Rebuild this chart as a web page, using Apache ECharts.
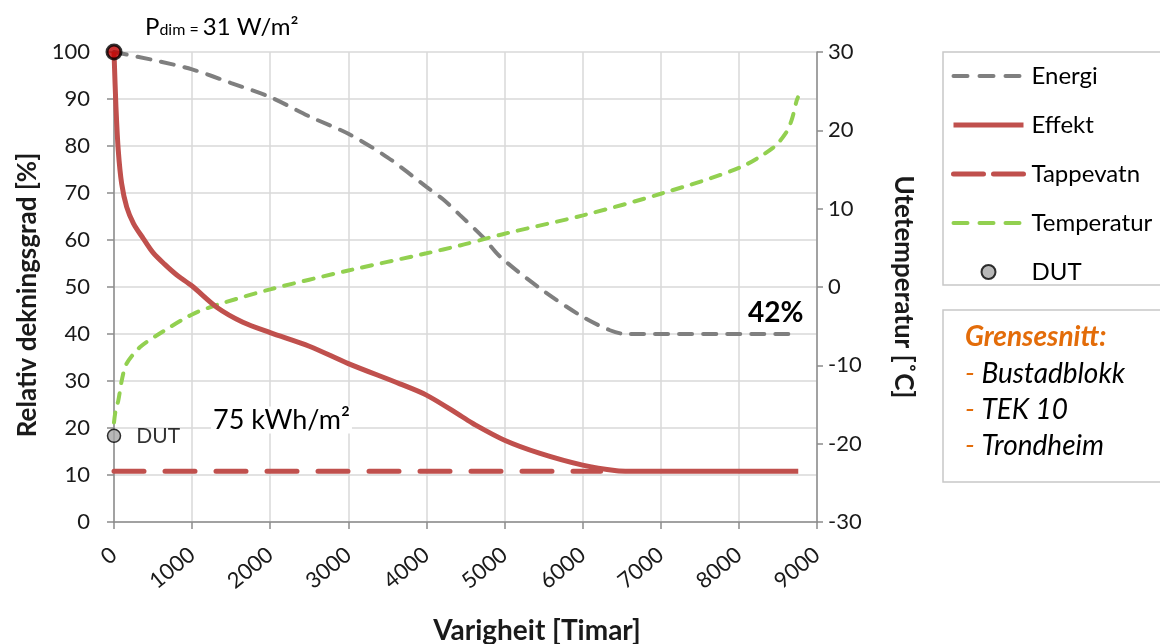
<!DOCTYPE html>
<html><head><meta charset="utf-8">
<script src="https://cdn.jsdelivr.net/npm/echarts@6/dist/echarts.min.js"></script>
<style>html,body{margin:0;padding:0;background:#fff}#c{width:1160px;height:644px}</style>
</head><body><div id="c"></div>
<script>
// ---- data ----
const xTicks = [0,1000,2000,3000,4000,5000,6000,7000,8000,9000];
const energiHours = [0,500,1000,1500,2000,2500,3000,3500,4000,4216,4430,4730,4940,5455,6005,6350,6550,8760];
const energiValues = [100,98.3,96.3,93.4,90.4,86.3,82.6,77.6,71.3,68.6,65.3,60.5,56.5,49.7,43.6,40.8,40,40];
const effektHours = [0,25,55,98,163,250,375,500,650,800,1000,1315,1650,2000,2500,3000,3660,4000,4430,4600,5000,5455,6000,6435,6600,8760];
const effektValues = [100,88.3,79,72,67,63.5,60.3,57.3,54.8,52.6,50.2,45.7,42.5,40.3,37.4,33.7,29.4,27,22.7,20.9,17.4,14.6,12.1,10.9,10.8,10.8];
const tappevatnHours = [0,6230];
const tappevatnValues = [10.8,10.8];
const tempHours = [0,20,55,100,160,330,545,1000,1315,2000,3000,4000,4430,4770,5000,6005,7000,8000,8440,8610,8675,8740,8755];
const tempValues = [-17.3,-15.8,-14.5,-11.9,-9.8,-7.7,-6.2,-3.5,-2.3,-0.3,2.1,4.3,5.3,6.2,6.8,9.15,11.9,15.2,17.8,19.8,21.3,23.8,24.2];
const dutPoint = [0,-19];
const dimPoint = [0,100];

const zip = (a,b)=>a.map((v,i)=>[v,b[i]]);
const FONT = 'Lato, "Open Sans", sans-serif';
const chart = echarts.init(document.getElementById('c'), null, {renderer:'canvas'});
const gray = '#7f7f7f', red = '#c0504d', green = '#92d050';
const hideSym = {opacity:0};

chart.setOption({
  animation:false,
  textStyle:{fontFamily:FONT},
  grid:{left:114, top:52, width:703, height:470, containLabel:false, outerBoundsMode:'none'},
  legend:{
    orient:'vertical', left:946, top:57, itemWidth:70, itemHeight:14, itemGap:21,
    textStyle:{fontSize:24, color:'#000', fontFamily:FONT, lineHeight:28, padding:[0,0,0,3]},
    data:[
      {name:'Energi', itemStyle:hideSym, lineStyle:{width:4, type:[14,12], cap:'round', color:gray}},
      {name:'Effekt', itemStyle:hideSym, lineStyle:{width:5, color:red}},
      {name:'Tappevatn', itemStyle:hideSym, lineStyle:{width:5, type:[30,10], cap:'round', color:red}},
      {name:'Temperatur', itemStyle:hideSym, lineStyle:{width:4, type:[14,12], cap:'round', color:green}},
      {name:'DUT'}
    ]
  },
  xAxis:{
    type:'value', min:0, max:9000, interval:1000,
    axisLine:{show:true, lineStyle:{color:'#8c8c8c', width:1.5}},
    axisTick:{show:true, length:7, lineStyle:{color:'#8c8c8c', width:1.5}},
    splitLine:{show:true, lineStyle:{color:'#d9d9d9', width:1.5}},
    axisLabel:{rotate:39, fontSize:22, color:'#1a1a1a', margin:30, fontFamily:FONT,
      formatter:(v)=>String(v)},
    name:'Varigheit [Timar]', nameLocation:'middle', nameGap:95,
    nameTextStyle:{fontSize:28, fontWeight:'bold', color:'#1a1a1a', padding:[0,0,0,143], fontFamily:FONT}
  },
  yAxis:[{
    type:'value', min:0, max:100, interval:10, position:'left',
    axisLine:{show:true, lineStyle:{color:'#8c8c8c', width:1.5}},
    axisTick:{show:true, length:7, lineStyle:{color:'#8c8c8c', width:1.5}},
    splitLine:{show:true, lineStyle:{color:'#d9d9d9', width:1.5}},
    axisLabel:{fontSize:22, color:'#1a1a1a', margin:24, fontFamily:FONT},
    name:'Relativ dekningsgrad [%]', nameLocation:'middle', nameGap:73, nameRotate:90,
    nameTextStyle:{fontSize:26, fontWeight:'bold', color:'#1a1a1a', fontFamily:FONT, padding:[0,16,0,0]}
  },{
    type:'value', min:-30, max:30, interval:10, position:'right',
    axisLine:{show:true, lineStyle:{color:'#8c8c8c', width:1.5}},
    axisTick:{show:true, length:6, lineStyle:{color:'#8c8c8c', width:1.5}},
    splitLine:{show:false},
    axisLabel:{fontSize:22, color:'#1a1a1a', margin:11, fontFamily:FONT},
    name:'Utetemperatur [˚C]', nameLocation:'middle', nameGap:73, nameRotate:-90,
    nameTextStyle:{fontSize:26, fontWeight:'bold', color:'#1a1a1a', fontFamily:FONT}
  }],
  series:[
    {name:'Energi', type:'line', yAxisIndex:0, data:zip(energiHours,energiValues), symbol:'none', smooth:0.3,
      lineStyle:{color:gray, width:4, type:[13,11], cap:'round'}, itemStyle:{color:gray}, z:3},
    {name:'Tappevatn', type:'line', yAxisIndex:0, data:zip(tappevatnHours,tappevatnValues), symbol:'none',
      lineStyle:{color:red, width:5, type:[30,21], cap:'round'}, itemStyle:{color:red}, z:3},
    {name:'Effekt', type:'line', yAxisIndex:0, data:zip(effektHours,effektValues), symbol:'none', smooth:0.3,
      lineStyle:{color:red, width:5}, itemStyle:{color:red}, z:4},
    {name:'Temperatur', type:'line', yAxisIndex:1, data:zip(tempHours,tempValues), symbol:'none', smooth:0.3,
      lineStyle:{color:green, width:4, type:[10,10], cap:'round'}, itemStyle:{color:green}, z:3},
    {name:'DUT', type:'scatter', yAxisIndex:1, data:[dutPoint], symbol:'circle', symbolSize:13,
      itemStyle:{color:'#a6a6a6', borderColor:'#000', borderWidth:1.5}, z:5,
      label:{show:true, position:'right', distance:15, formatter:'DUT', fontSize:21, color:'#000', fontFamily:FONT}},
    {name:'Pdim', type:'scatter', yAxisIndex:0, data:[dimPoint], symbol:'circle', symbolSize:14,
      itemStyle:{color:'#c00000', borderColor:'#000', borderWidth:3}, z:6}
  ],
  graphic:[
    {type:'rect', shape:{x:943, y:52, width:240, height:233}, style:{fill:'none', stroke:'#c8c8c8', lineWidth:1.5}, silent:true},
    {type:'rect', shape:{x:943, y:310, width:240, height:172}, style:{fill:'none', stroke:'#c8c8c8', lineWidth:1.5}, silent:true},
    {type:'text', x:965, y:337, style:{text:'Grensesnitt:', font:'italic bold 28px '+FONT, fill:'#e36c09', verticalAlign:'middle'}},
    {type:'text', x:965, y:374, style:{text:'{d|- }{t|Bustadblokk}', verticalAlign:'middle',
      rich:{d:{fill:'#e36c09', font:'italic 28px '+FONT}, t:{fill:'#000', font:'italic 28px '+FONT}}}},
    {type:'text', x:965, y:410, style:{text:'{d|- }{t|TEK 10}', verticalAlign:'middle',
      rich:{d:{fill:'#e36c09', font:'italic 28px '+FONT}, t:{fill:'#000', font:'italic 28px '+FONT}}}},
    {type:'text', x:965, y:446, style:{text:'{d|- }{t|Trondheim}', verticalAlign:'middle',
      rich:{d:{fill:'#e36c09', font:'italic 28px '+FONT}, t:{fill:'#000', font:'italic 28px '+FONT}}}},
    {type:'text', x:145, y:27, style:{text:'{a|P}{b|dim = }{a|31 W/m²}', verticalAlign:'middle',
      rich:{a:{fill:'#000', font:'24px '+FONT}, b:{fill:'#000', font:'16px '+FONT, padding:[6,0,0,0]}}}},
    {type:'text', x:211, y:420, z:10, style:{text:'75 kWh/m²', font:'27px '+FONT, fill:'#000', verticalAlign:'middle',
      backgroundColor:'#fff', padding:[0,2,0,2]}},
    {type:'text', x:748, y:313, style:{text:'42%', font:'bold 28px '+FONT, fill:'#000', verticalAlign:'middle'}}
  ]
});
</script></body></html>
